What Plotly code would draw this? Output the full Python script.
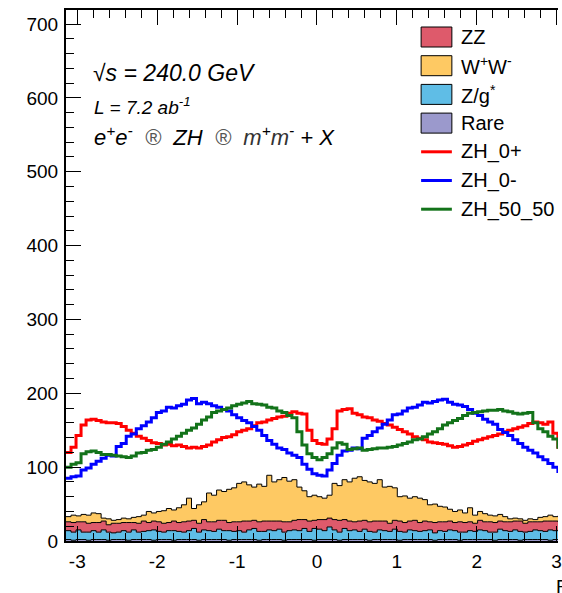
import numpy as np
import plotly.graph_objects as go

# ---------------------------------------------------------------------------
# Histogram contents: 100 bins in phi over [-pi, pi]
# ---------------------------------------------------------------------------
N_BINS = 100
PHI_MIN, PHI_MAX = -np.pi, np.pi

zh_0plus = [120, 127, 143, 157, 164, 165, 163, 161, 160, 160,
            159, 155, 150, 146, 142, 139, 136, 133, 132, 130,
            131, 129, 130, 128, 126, 127, 126, 128, 130, 134,
            137, 140, 141, 144, 148, 150, 152, 156, 160, 161,
            164, 166, 168, 169, 173, 175, 173, 172, 150, 136,
            132, 131, 138, 152, 176, 178, 179, 173, 171, 168,
            167, 164, 162, 159, 157, 154, 151, 148, 145, 141,
            139, 137, 134, 133, 132, 131, 129, 127, 128, 130,
            132, 135, 137, 139, 141, 143, 145, 148, 150, 152,
            154, 156, 159, 161, 160, 158, 161, 146, 127, 123]

zh_0minus = [85, 87, 88, 96, 99, 104, 108, 112, 116, 115,
             128, 132, 142, 145, 152, 156, 161, 167, 174, 176,
             181, 180, 183, 185, 191, 193, 186, 188, 186, 183,
             181, 178, 176, 171, 167, 163, 160, 155, 150, 143,
             136, 131, 126, 124, 119, 116, 113, 104, 97, 91,
             89, 88, 96, 105, 116, 122, 123, 126, 125, 139,
             143, 148, 153, 158, 164, 171, 172, 176, 180, 181,
             184, 188, 187, 189, 191, 192, 188, 185, 184, 182,
             178, 173, 170, 165, 161, 158, 151, 147, 143, 137,
             132, 127, 123, 119, 114, 110, 105, 100, 94, 92]

zh_50_50 = [100, 104, 106, 118, 121, 122, 120, 117, 117, 116,
            115, 114, 113, 115, 119, 120, 123, 124, 127, 131,
            134, 138, 142, 146, 150, 153, 158, 164, 168, 174,
            176, 178, 180, 183, 185, 187, 189, 186, 185, 184,
            181, 180, 176, 174, 170, 167, 148, 130, 118, 113,
            110, 113, 118, 126, 133, 131, 124, 125, 126, 123,
            124, 125, 126, 126, 127, 128, 130, 132, 134, 137,
            138, 141, 145, 148, 152, 157, 160, 163, 166, 170,
            173, 174, 175, 176, 177, 177, 178, 176, 175, 173,
            172, 173, 174, 160, 152, 148, 142, 138, 127, 119]

# Backgrounds (stacked, bottom to top: Rare, Z/gamma*, ZZ, WW)
bkg_rare = [2, 1, 2, 2, 1, 2, 2, 2, 1, 2,
            2, 2, 1, 2, 2, 2, 2, 1, 2, 2,
            2, 1, 2, 2, 2, 2, 1, 2, 2, 2,
            2, 2, 1, 2, 2, 2, 2, 2, 1, 2,
            2, 2, 2, 1, 2, 2, 2, 2, 2, 1,
            2, 2, 2, 2, 1, 2, 2, 2, 2, 2,
            1, 2, 2, 2, 2, 2, 1, 2, 2, 2,
            2, 2, 2, 1, 2, 2, 2, 2, 1, 2,
            2, 2, 2, 2, 2, 1, 2, 2, 2, 2,
            1, 2, 2, 2, 2, 2, 1, 2, 2, 2]

bkg_zgamma = [12, 11, 13, 10, 11, 12, 10, 13, 11, 9,
              10, 12, 11, 13, 10, 11, 12, 14, 11, 10,
              12, 13, 11, 10, 12, 15, 11, 13, 12, 11,
              14, 12, 13, 11, 12, 10, 13, 15, 12, 11,
              13, 12, 14, 11, 12, 13, 12, 15, 11, 16,
              14, 12, 17, 13, 11, 15, 12, 13, 11, 14,
              12, 10, 13, 12, 11, 14, 12, 10, 13, 12,
              11, 12, 13, 10, 12, 11, 13, 12, 11, 10,
              12, 11, 13, 12, 10, 11, 14, 12, 11, 13,
              12, 10, 11, 13, 12, 11, 14, 12, 13, 11]

bkg_zz = [12, 13, 11, 14, 12, 11, 13, 12, 10, 13,
          12, 11, 13, 10, 12, 14, 11, 12, 13, 12,
          11, 13, 12, 14, 13, 11, 12, 14, 12, 13,
          12, 14, 11, 13, 12, 15, 12, 11, 13, 14,
          12, 13, 11, 14, 12, 13, 15, 12, 14, 11,
          13, 15, 12, 14, 16, 12, 13, 11, 14, 12,
          13, 15, 12, 13, 11, 12, 14, 13, 12, 14,
          12, 13, 11, 14, 12, 13, 12, 11, 14, 13,
          12, 11, 13, 12, 14, 13, 11, 12, 13, 12,
          14, 12, 13, 11, 12, 14, 12, 13, 11, 13]

bkg_ww = [7, 10, 8, 10, 11, 13, 12, 4, 8, 4,
          5, 6, 5, 7, 9, 8, 15, 11, 14, 17,
          19, 15, 20, 23, 31, 16, 25, 24, 39, 36,
          41, 39, 45, 46, 52, 53, 49, 45, 51, 47,
          62, 53, 56, 60, 55, 55, 44, 39, 33, 34,
          31, 29, 31, 49, 47, 54, 53, 59, 60, 54,
          54, 51, 56, 46, 50, 44, 33, 36, 31, 32,
          33, 29, 23, 25, 21, 20, 16, 15, 16, 13,
          19, 11, 12, 11, 9, 9, 9, 7, 4, 4,
          3, 4, 4, 3, 6, 6, 8, 6, 8, 6]

x_tick_vals = [-3, -2, -1, 0, 1, 2, 3]
x_tick_text = ["-3", "-2", "-1", "0", "1", "2", "3"]
y_tick_vals = [0, 100, 200, 300, 400, 500, 600, 700]

edges = np.linspace(PHI_MIN, PHI_MAX, N_BINS + 1)

FONT = "Liberation Sans, Arial, Helvetica, sans-serif"
C_ZZ = "#de5a6b"
C_WW = "#fec963"
C_ZG = "#5fbde6"
C_RARE = "#9b99cc"
C_RED = "#ff0000"
C_BLUE = "#0000ff"
C_GREEN = "#13731a"


def step_xy(values):
    """Bin contents -> points for an 'hv' step outline spanning all edges."""
    return list(edges), list(values) + [values[-1]]


fig = go.Figure()

# stacked backgrounds
for name, vals, col in [("Rare", bkg_rare, C_RARE),
                        ("Z/g*", bkg_zgamma, C_ZG),
                        ("ZZ", bkg_zz, C_ZZ),
                        ("W+W-", bkg_ww, C_WW)]:
    xs, ys = step_xy(vals)
    fig.add_trace(go.Scatter(
        x=xs, y=ys, name=name, mode="lines", stackgroup="bkg",
        line=dict(shape="hv", color="black", width=1),
        fillcolor=col, showlegend=False, hoverinfo="skip"))

# signal hypotheses
for name, vals, col in [("ZH_0+", zh_0plus, C_RED),
                        ("ZH_0-", zh_0minus, C_BLUE),
                        ("ZH_50_50", zh_50_50, C_GREEN)]:
    xs, ys = step_xy(vals)
    fig.add_trace(go.Scatter(
        x=xs, y=ys, name=name, mode="lines",
        line=dict(shape="hv", color=col, width=3),
        showlegend=False))

# ---------------------------------------------------------------------------
# Frame geometry in pixels (figure 562 x 593)
# ---------------------------------------------------------------------------
W, H = 562, 593
L_PX, R_PX, T_PX, B_PX = 66, 562, 10, 541


def px(xp):
    return (xp - L_PX) / (R_PX - L_PX)


def py(yp):
    return (B_PX - yp) / (B_PX - T_PX)


shapes = []
annotations = []

# legend drawn by hand (ROOT TLegend style)
legend_rows = [("ZZ", "box", C_ZZ), ("W<sup>+</sup>W<sup>-</sup>", "box", C_WW),
               ("Z/g<sup>*</sup>", "box", C_ZG), ("Rare", "box", C_RARE),
               ("ZH_0+", "line", C_RED), ("ZH_0-", "line", C_BLUE),
               ("ZH_50_50", "line", C_GREEN)]
row0, dy = 37, 28.7
for k, (label, kind, col) in enumerate(legend_rows):
    yc = row0 + k * dy
    if kind == "box":
        shapes.append(dict(type="rect", xref="paper", yref="paper",
                           x0=px(424), x1=px(455), y0=py(yc + 10), y1=py(yc - 10),
                           fillcolor=col, line=dict(color="black", width=1)))
    else:
        shapes.append(dict(type="line", xref="paper", yref="paper",
                           x0=px(424), x1=px(455), y0=py(yc), y1=py(yc),
                           line=dict(color=col, width=3)))
    annotations.append(dict(text=label, xref="paper", yref="paper",
                            x=px(462), y=py(yc), xanchor="left", yanchor="middle",
                            showarrow=False, font=dict(family=FONT, size=20, color="black")))

# physics labels
annotations.append(dict(text="<i>\u221as = 240.0 GeV</i>", xref="paper", yref="paper",
                        x=px(91), y=py(73), xanchor="left", yanchor="middle",
                        showarrow=False, font=dict(family=FONT, size=23, color="black")))
annotations.append(dict(text="<i>L = 7.2 ab<sup>-1</sup></i>", xref="paper", yref="paper",
                        x=px(92), y=py(106), xanchor="left", yanchor="middle",
                        showarrow=False, font=dict(family=FONT, size=19, color="black")))
sym = "<span style='color:#555555'>\u00ae</span>"
mu = "<span style='color:#333333'>m</span>"
annotations.append(dict(
    text=("<i>e<sup>+</sup>e<sup>-</sup>\u00a0\u00a0" + sym + "\u00a0\u00a0ZH\u00a0\u00a0" + sym +
          "\u00a0\u00a0" + mu + "<sup>+</sup>" + mu + "<sup>-</sup>\u00a0+\u00a0X</i>"),
    xref="paper", yref="paper", x=px(92), y=py(136), xanchor="left", yanchor="middle",
    showarrow=False, font=dict(family=FONT, size=22, color="black")))

# axis title (sits at the far right end of the x axis)
annotations.append(dict(text="F", xref="paper", yref="paper",
                        x=px(558), y=py(586), xanchor="left", yanchor="middle",
                        showarrow=False, font=dict(family=FONT, size=19, color="black")))

fig.update_layout(
    width=W, height=H,
    margin=dict(l=L_PX, r=W - R_PX, t=T_PX, b=H - B_PX, pad=0),
    paper_bgcolor="white", plot_bgcolor="white",
    showlegend=False,
    shapes=shapes, annotations=annotations,
    font=dict(family=FONT, size=19, color="black"),
)

fig.update_xaxes(
    range=[PHI_MIN, 3.017],
    tickmode="array", tickvals=x_tick_vals, ticktext=x_tick_text,
    ticks="inside", ticklen=15, tickwidth=1, tickcolor="black",
    minor=dict(tickmode="linear", tick0=0, dtick=0.2, ticks="inside",
               ticklen=8, tickwidth=1, tickcolor="black", showgrid=False),
    showline=True, linecolor="black", linewidth=2, mirror="ticks",
    showgrid=False, zeroline=False,
    tickfont=dict(family=FONT, size=19, color="black"),
    ticklabelstandoff=2, ticklabeloverflow="allow",
)
fig.update_yaxes(
    range=[0, 719],
    tickmode="array", tickvals=y_tick_vals,
    ticks="inside", ticklen=15, tickwidth=1, tickcolor="black",
    minor=dict(tickmode="linear", tick0=0, dtick=20, ticks="inside",
               ticklen=8, tickwidth=1, tickcolor="black", showgrid=False),
    showline=True, linecolor="black", linewidth=2,
    showgrid=False, zeroline=False,
    tickfont=dict(family=FONT, size=19, color="black"),
    ticklabelstandoff=2,
)

fig.write_html("out.html")
